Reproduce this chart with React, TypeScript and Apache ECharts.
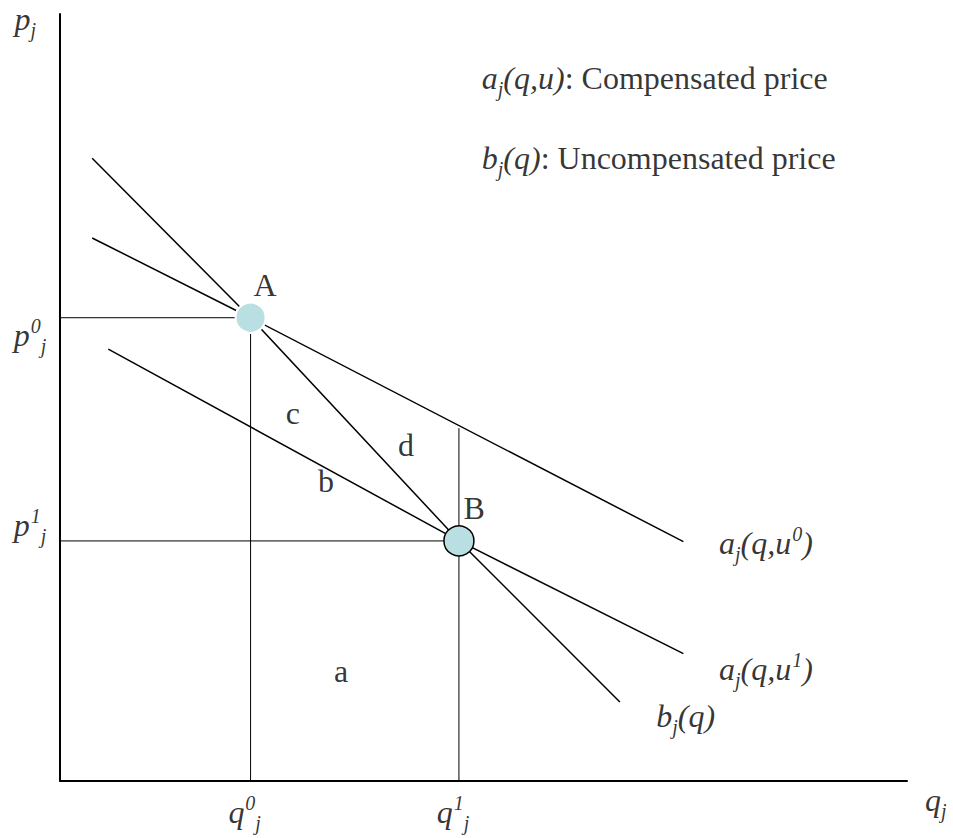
import React, { useEffect, useRef } from "react";
import * as echarts from "echarts";

// ---- data (axis units: quantity 0..10, price 0..10) ----
const X_MAX = 10;
const Y_MAX = 10;

const pointA: [number, number] = [2.25, 6.04];
const pointB: [number, number] = [4.71, 3.13];

const uncompensatedCurve: [number, number][] = [
  [0.38, 8.12],
  [2.25, 6.04],
  [4.71, 3.13],
  [6.61, 1.03],
];
const compensatedU0: [number, number][] = [
  [0.38, 7.08],
  [2.25, 6.04],
  [7.36, 3.12],
];
const compensatedU1: [number, number][] = [
  [0.57, 5.63],
  [4.71, 3.13],
  [7.36, 1.66],
];
const q1GuideTop = 4.6;

// annotation texts and their anchor points (data units)
const annotationTexts = [
  "{r|A}",
  "{r|B}",
  "{r|a}",
  "{r|b}",
  "{r|c}",
  "{r|d}",
  "{i|a}{sub|j}{i|(q,u}{sup|0}{i|)}",
  "{i|a}{sub|j}{i|(q,u}{sup|1}{i|)}",
  "{i|b}{sub|j}{i|(q)}",
  "{i|p}{sub|j}",
  "{i|p}{sup|0}{sub|j}",
  "{i|p}{sup|1}{sub|j}",
  "{i|q}{sup|0}{sub|j}",
  "{i|q}{sup|1}{sub|j}",
  "{i|q}{sub|j}",
  "{i|a}{sub|j}{i|(q,u)}{r|: Compensated price}",
  "{i|b}{sub|j}{i|(q)}{r|: Uncompensated price}",
];
const annotationX = [2.42, 4.89, 3.32, 3.14, 2.75, 4.085, 7.78, 7.78, 7.04, -0.41, -0.354, -0.354, 2.18, 4.64, 10.34, 4.98, 4.98];
const annotationY = [6.47, 3.56, 1.43, 3.91, 4.8, 4.38, 3.1, 1.46, 0.85, 9.93, 5.81, 3.34, -0.4, -0.4, -0.25, 9.17, 8.12];
const annotationAlign = ["center", "center", "center", "center", "center", "center", "left", "left", "left", "center", "center", "center", "center", "center", "center", "left", "left"];

const FONT = "Liberation Serif";

export default function App() {
  const ref = useRef<HTMLDivElement>(null);

  useEffect(() => {
    document.body.style.margin = "0";
    if (!ref.current) return;
    const chart = echarts.init(ref.current, undefined, { renderer: "svg" });

    const curveStyle = { color: "#000", width: 1.5 };
    const guideStyle = { color: "#000", width: 1 };
    const lineSeries = (data: [number, number][], lineStyle: any) => ({
      type: "line",
      data,
      symbol: "none",
      silent: true,
      clip: false,
      lineStyle,
      z: 2,
    });

    const rich = {
      i: { fontFamily: FONT, fontStyle: "italic", fontSize: 32, lineHeight: 42, color: "#000" },
      r: { fontFamily: FONT, fontStyle: "normal", fontSize: 32, lineHeight: 42, color: "#000" },
      sub: { fontFamily: FONT, fontStyle: "italic", fontSize: 20, lineHeight: 17, verticalAlign: "bottom", color: "#000" },
      sup: { fontFamily: FONT, fontStyle: "italic", fontSize: 20, lineHeight: 19, verticalAlign: "top", padding: [2, 0, 0, 1], color: "#000" },
    };

    const annotations = annotationTexts.map((t, k) => ({
      value: [annotationX[k], annotationY[k]],
      label: {
        show: true,
        formatter: t,
        position: [0, 0],
        align: annotationAlign[k],
        verticalAlign: "middle",
        fontFamily: FONT,
        fontSize: 32,
        color: "#000",
        rich,
      },
    }));

    chart.setOption({
      animation: false,
      backgroundColor: "#fff",
      textStyle: { fontFamily: FONT },
      grid: { left: 60, right: 46, top: 14, bottom: 57 },
      xAxis: {
        type: "value",
        min: 0,
        max: X_MAX,
        axisLine: { show: true, lineStyle: { color: "#000", width: 2 } },
        axisTick: { show: false },
        axisLabel: { show: false },
        splitLine: { show: false },
      },
      yAxis: {
        type: "value",
        min: 0,
        max: Y_MAX,
        axisLine: { show: true, lineStyle: { color: "#000", width: 2 } },
        axisTick: { show: false },
        axisLabel: { show: false },
        splitLine: { show: false },
      },
      series: [
        lineSeries([[0, pointA[1]], pointA], guideStyle),
        lineSeries([[0, pointB[1]], pointB], guideStyle),
        lineSeries([[pointA[0], 0], pointA], guideStyle),
        lineSeries([[pointB[0], 0], [pointB[0], q1GuideTop]], guideStyle),
        lineSeries(uncompensatedCurve, curveStyle),
        lineSeries(compensatedU0, curveStyle),
        lineSeries(compensatedU1, curveStyle),
        {
          type: "scatter",
          silent: true,
          clip: false,
          z: 5,
          symbolSize: 30,
          data: [
            { value: pointA, itemStyle: { color: "#B9DFE2", opacity: 1, borderColor: "#fff", borderWidth: 2 } },
            { value: pointB, itemStyle: { color: "#B9DFE2", opacity: 1, borderColor: "#000", borderWidth: 1.5 } },
          ],
        },
        {
          type: "scatter",
          silent: true,
          clip: false,
          z: 6,
          symbolSize: 0,
          itemStyle: { color: "transparent" },
          data: annotations,
        },
      ],
    });

    return () => chart.dispose();
  }, []);

  return <div ref={ref} style={{ width: 953, height: 838 }} />;
}
